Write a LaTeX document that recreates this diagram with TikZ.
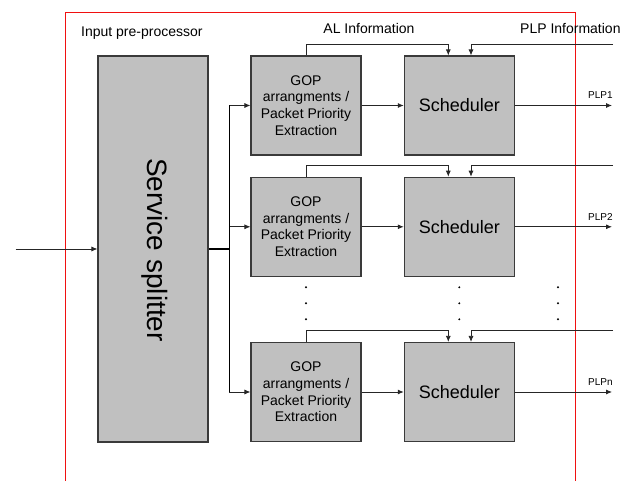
\documentclass[tikz,border=0pt]{standalone}
\usepackage{fontspec}
\setmainfont{Liberation Sans}
\usetikzlibrary{arrows.meta,calc}
\definecolor{boxfill}{HTML}{C0C0C0}
\definecolor{boxline}{HTML}{3A3A3A}
\definecolor{conn}{HTML}{262626}
\definecolor{frame}{HTML}{F01010}
\tikzset{
  blk/.style={draw=boxline, line width=1.1pt, fill=boxfill, rectangle, inner sep=0pt,
    minimum width=110pt, minimum height=99pt, align=center, text=black},
  gopbox/.style={blk, font=\fontsize{14}{16.7}\selectfont},
  schbox/.style={blk, font=\fontsize{18}{21}\selectfont},
  conline/.style={draw=conn, line width=0.8pt},
  arr/.style={conline, -{Latex[length=6pt,width=5pt]}},
  lbl/.style={inner sep=0pt, font=\fontsize{14}{16}\selectfont, text=black},
  plpl/.style={inner sep=0pt, font=\fontsize{10}{12}\selectfont, text=black, anchor=south west},
  dotm/.style={circle, fill=black, inner sep=0pt, minimum size=2.2pt}
}
\begin{document}
\begin{tikzpicture}[x=1pt,y=-1pt]
\useasboundingbox (0,0) rectangle (625,481);
% frame
\draw[frame, line width=0.9pt] (65,481) -- (65,12) -- (575,12) -- (575,481);
% labels
\node[lbl, anchor=west] (ipp) at (81,33) {Input pre-processor};
\node[lbl] (ali) at (369,28) {AL Information};
\node[lbl, anchor=west] (pli) at (520,28) {PLP Information};
% splitter
\node[blk, minimum height=386pt] (split) at (153,249) {};
\node[rotate=-90, inner sep=0pt, font=\fontsize{28}{32}\selectfont] (splt) at (155,250) {Service split\kern0pt ter};
% rows
\foreach \i/\y in {1/105.5, 2/226.8, 3/392}{
  \node[gopbox] (g\i) at (306,\y) {GOP\\arrangments /\\Packet Priority\\Extraction};
  \node[schbox] (s\i) at (459.3,\y) {Scheduler};
  \coordinate (b\i) at (229.3,\y);
  \coordinate (o\i) at (612,\y);
  \coordinate (a\i) at (448.3,\y-61.2);
  \coordinate (q\i) at (471,\y-61.2);
  \coordinate (p\i) at (613,\y-61.2);
  \draw[arr] (b\i) -- (g\i.west);
  \draw[arr] (g\i.east) -- (s\i.west);
  \draw[arr] (s\i.east) -- (o\i);
  \draw[arr] (g\i.north) |- (a\i) -- (a\i |- s\i.north);
  \draw[arr] (p\i) -- (q\i) -- (q\i |- s\i.north);
}
\node[plpl] (l1) at (588,99) {PLP1};
\node[plpl] (l2) at (588,220.3) {PLP2};
\node[plpl] (l3) at (588,385.5) {PLPn};
% bus
\coordinate (in) at (15.7,249);
\coordinate (bm) at (229.3,249);
\draw[arr] (in) -- (split.west);
\draw[draw=black, line width=1.6pt] (split.east) -- (bm);
\draw[conline, draw=black, line width=1pt] (b1) -- (b3);
% dots
\foreach \x in {306,459.3,558}{
  \foreach \y in {287.3,303.3,319.3}{
    \node[dotm] at (\x,\y) {};
  }
}
\end{tikzpicture}
\end{document}
